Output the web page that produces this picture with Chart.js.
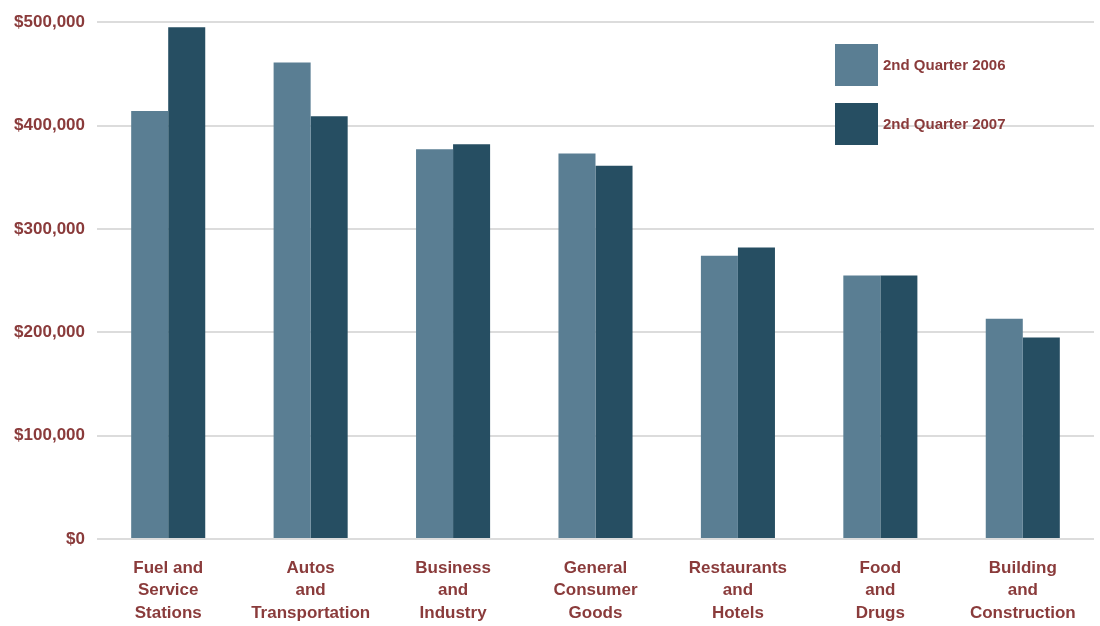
<!DOCTYPE html>
<html>
<head>
<meta charset="utf-8">
<script src="https://cdn.jsdelivr.net/npm/chart.js@4.4.1/dist/chart.umd.min.js"></script>
<style>
  html, body { margin: 0; padding: 0; background: #fff; }
  #wrap { width: 1100px; height: 626px; position: relative; }
</style>
</head>
<body>
<div id="wrap"><canvas id="myChart"></canvas></div>
<script>
// categories (multi-line labels)
const categories = [
  ['Fuel and', 'Service', 'Stations'],
  ['Autos', 'and', 'Transportation'],
  ['Business', 'and', 'Industry'],
  ['General', 'Consumer', 'Goods'],
  ['Restaurants', 'and', 'Hotels'],
  ['Food', 'and', 'Drugs'],
  ['Building', 'and', 'Construction']
];
const seriesNames = ['2nd Quarter 2006', '2nd Quarter 2007'];
const q2006 = [414000, 461000, 377000, 373000, 274000, 255000, 213000];
const q2007 = [495000, 409000, 382000, 361000, 282000, 255000, 195000];
const yTicks = [0, 100000, 200000, 300000, 400000, 500000];

const textColor = '#8a3b3b';
const fontFam = "'Liberation Sans', Arial, sans-serif";

// legend drawn as two big squares in the top right of the plot
const sideLegend = {
  id: 'sideLegend',
  afterDraw(chart) {
    const ctx = chart.ctx;
    const rows = [{ x: 835, y: 44 }, { x: 835, y: 103 }];
    ctx.save();
    chart.data.datasets.forEach((ds, i) => {
      const r = rows[i];
      ctx.fillStyle = ds.backgroundColor;
      ctx.fillRect(r.x, r.y, 43, 42);
      ctx.fillStyle = textColor;
      ctx.font = 'bold 15px ' + fontFam;
      ctx.textBaseline = 'middle';
      ctx.textAlign = 'left';
      ctx.fillText(ds.label, r.x + 48, r.y + 22);
    });
    ctx.restore();
  }
};

let ctx = document.getElementById('myChart').getContext('2d');
let chart = new Chart(ctx, {
  type: 'bar',
  data: {
    labels: categories,
    datasets: [
      { label: seriesNames[0], data: q2006, backgroundColor: '#5a7e93' },
      { label: seriesNames[1], data: q2007, backgroundColor: '#264e62' }
    ]
  },
  options: {
    responsive: true,
    maintainAspectRatio: false,
    animation: false,
    layout: { padding: { top: 17, right: 6, left: 0, bottom: 0 } },
    datasets: { bar: { categoryPercentage: 0.52, barPercentage: 1.0 } },
    plugins: {
      legend: { display: false },
      tooltip: { enabled: false }
    },
    scales: {
      x: {
        grid: { display: false, drawTicks: false },
        border: { display: false },
        ticks: {
          color: textColor,
          font: { family: fontFam, size: 17, weight: 'bold', lineHeight: 1.32 },
          padding: 18,
          maxRotation: 0,
          autoSkip: false
        },
        afterFit(scale) { scale.height = 87; }
      },
      y: {
        min: 0,
        max: 500000,
        afterBuildTicks(scale) { scale.ticks = yTicks.map(v => ({ value: v })); },
        grid: { color: '#dcdcdc', lineWidth: 2, drawTicks: false },
        border: { display: false },
        ticks: {
          color: textColor,
          font: { family: fontFam, size: 17, weight: 'bold' },
          padding: 12,
          callback: v => '$' + v.toLocaleString('en-US')
        },
        afterFit(scale) { scale.width = 97; }
      }
    }
  },
  plugins: [sideLegend]
});
</script>
</body>
</html>
